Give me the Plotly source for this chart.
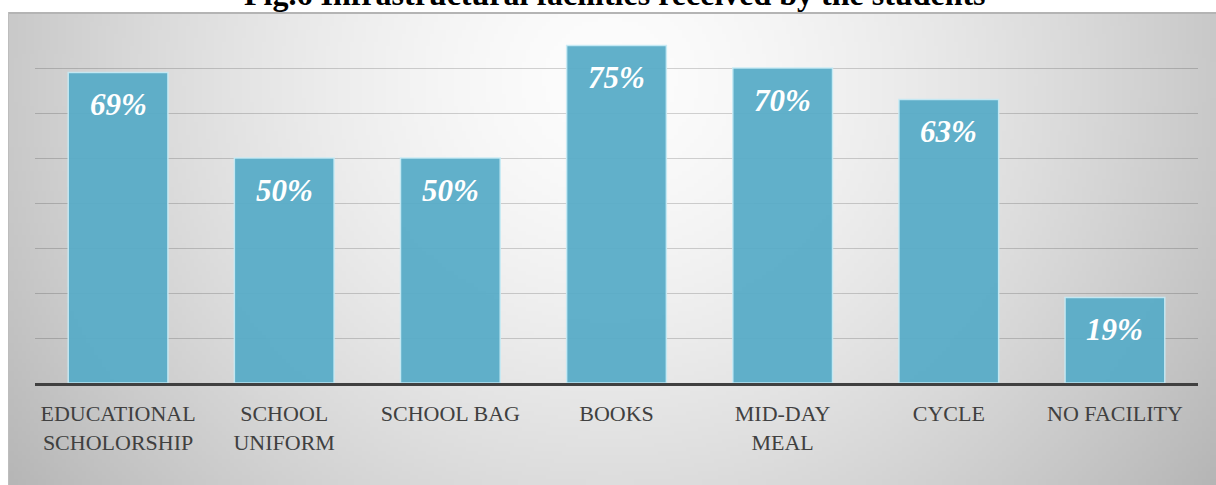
import base64
import struct
import zlib

import numpy as np
import plotly.graph_objects as go

# ---------------- data ----------------
categories = [
    "EDUCATIONAL<br>SCHOLORSHIP",
    "SCHOOL<br>UNIFORM",
    "SCHOOL BAG",
    "BOOKS",
    "MID-DAY<br>MEAL",
    "CYCLE",
    "NO FACILITY",
]
values = [69, 50, 50, 75, 70, 63, 19]
value_labels = [f"{v}%" for v in values]
title_text = "Fig.6 Infrastructural facilities received by the students"

SERIF = "Liberation Serif"

# ---------------- geometry (pixels) ----------------
W, H = 1216, 485
ML, MR, MT, MB = 35, 18, 23, 102
PW = W - ML - MR
PH = H - MT - MB
BG_X0, BG_Y0 = 8, 12  # chart-area frame start (px)


def px_to_paper_x(px):
    return (px - ML) / PW


def px_to_paper_y(py):
    return (H - MB - py) / PH


# ---------------- radial gray background as PNG ----------------
def make_png_gray(arr):
    h, w = arr.shape
    raw = b"".join(b"\x00" + arr[i].tobytes() for i in range(h))

    def chunk(t, d):
        c = struct.pack(">I", len(d)) + t + d
        return c + struct.pack(">I", zlib.crc32(t + d) & 0xFFFFFFFF)

    return (
        b"\x89PNG\r\n\x1a\n"
        + chunk(b"IHDR", struct.pack(">IIBBBBB", w, h, 8, 0, 0, 0, 0))
        + chunk(b"IDAT", zlib.compress(raw, 9))
        + chunk(b"IEND", b"")
    )


bw, bh = W - BG_X0, H - BG_Y0
iw, ih = bw // 4, bh // 4
xs = BG_X0 + (np.arange(iw) + 0.5) * bw / iw
ys = BG_Y0 + (np.arange(ih) + 0.5) * bh / ih
X, Y = np.meshgrid(xs, ys)
d = np.sqrt(((X - 610) / 650) ** 2 + ((Y - 80) / 600) ** 2)
val = 253 - 58 * np.clip(d, 0, 1.4) ** 1.5
img = np.clip(val, 0, 255).astype(np.uint8)
png_uri = "data:image/png;base64," + base64.b64encode(make_png_gray(img)).decode()

# ---------------- figure ----------------
fig = go.Figure()
fig.add_trace(
    go.Bar(
        x=categories,
        y=values,
        marker=dict(
            color="rgba(88,172,199,0.95)",
            line=dict(color="rgba(200,235,245,0.9)", width=1.5),
        ),
        hoverinfo="skip",
    )
)

annotations = []
for c, v, t in zip(categories, values, value_labels):
    annotations.append(
        dict(
            x=c, y=v, xref="x", yref="y",
            text=t,
            showarrow=False,
            yanchor="middle",
            yshift=-32,
            font=dict(family=SERIF, size=31, color="white",
                      weight="bold", style="italic"),
        )
    )

annotations.append(
    dict(
        x=0.5 + (615 - (ML + PW / 2)) / PW, y=1, xref="paper", yref="paper",
        text=title_text,
        showarrow=False,
        yanchor="bottom",
        yshift=9,
        font=dict(family=SERIF, size=32, color="black", weight="bold"),
    )
)

shapes = [
    dict(type="line", xref="paper", yref="paper",
         x0=px_to_paper_x(BG_X0), x1=px_to_paper_x(W),
         y0=px_to_paper_y(BG_Y0 + 1), y1=px_to_paper_y(BG_Y0 + 1),
         line=dict(color="#b4b4b4", width=2), layer="below"),
    dict(type="line", xref="paper", yref="paper",
         x0=px_to_paper_x(BG_X0 + 0.5), x1=px_to_paper_x(BG_X0 + 0.5),
         y0=px_to_paper_y(BG_Y0), y1=px_to_paper_y(H),
         line=dict(color="#bdbdbd", width=1), layer="below"),
]

fig.update_layout(
    width=W, height=H,
    margin=dict(l=ML, r=MR, t=MT, b=MB, pad=0),
    paper_bgcolor="white",
    plot_bgcolor="rgba(0,0,0,0)",
    bargap=0.4,
    showlegend=False,
    annotations=annotations,
    shapes=shapes,
    images=[
        dict(
            source=png_uri, xref="paper", yref="paper",
            x=px_to_paper_x(BG_X0), y=px_to_paper_y(BG_Y0),
            sizex=px_to_paper_x(W) - px_to_paper_x(BG_X0),
            sizey=px_to_paper_y(BG_Y0) - px_to_paper_y(H),
            xanchor="left", yanchor="top",
            sizing="stretch", layer="below",
        )
    ],
    xaxis=dict(
        showline=True, linecolor="#404040", linewidth=3,
        showgrid=False, ticks="", ticklabelstandoff=9,
        tickfont=dict(family=SERIF, size=22, color="#404040"),
        fixedrange=True,
    ),
    yaxis=dict(
        range=[0, 80], dtick=10, showticklabels=False,
        showgrid=True, gridcolor="rgba(0,0,0,0.17)", gridwidth=1.3,
        zeroline=False, showline=False, fixedrange=True,
    ),
)

fig.write_html(
    "out.html",
    config={"displayModeBar": False},
    post_script="document.body.style.margin='0';document.body.style.overflow='hidden';",
)
